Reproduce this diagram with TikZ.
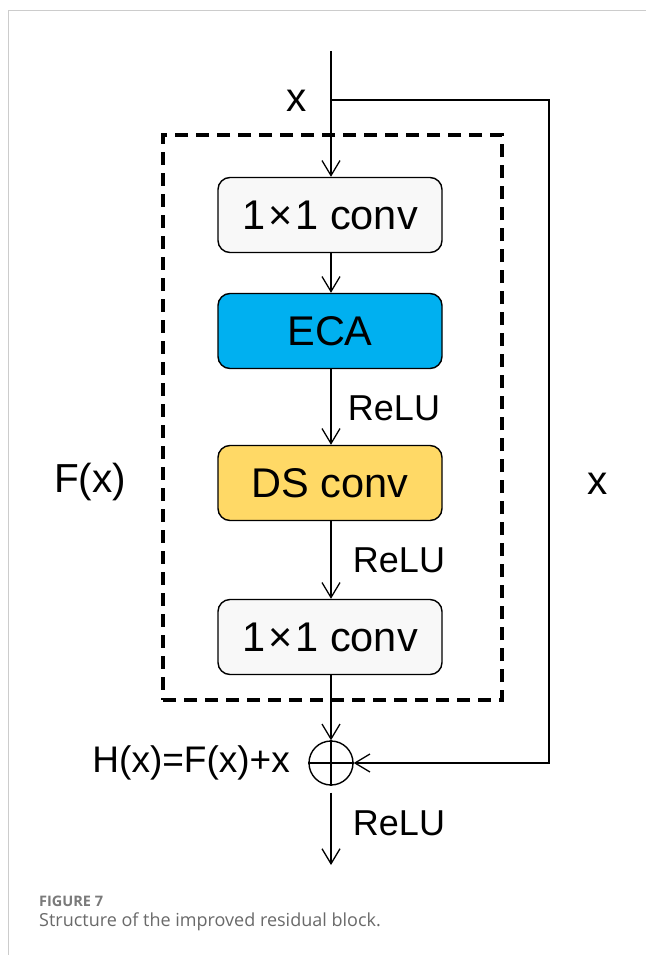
\documentclass[tikz,border=0pt]{standalone}
\usepackage{fontspec}
\setmainfont{Liberation Sans}
\newfontfamily\capfont{Open Sans}
\usetikzlibrary{arrows.meta}
\definecolor{ecablue}{HTML}{00B0F0}
\definecolor{dsyellow}{HTML}{FFD966}
\definecolor{boxgray}{HTML}{F8F8F8}
\definecolor{framegray}{HTML}{CCCCCC}
\definecolor{capgray}{HTML}{6A6A6A}
\definecolor{figgray}{HTML}{7A7A7A}
\newcommand{\bytimes}{\kern3pt×\kern3pt}

\begin{document}
\begin{tikzpicture}[x=1pt,y=-1pt,
  blockbox/.style={draw, line width=1.4pt, rounded corners=12pt,
    minimum width=224pt, minimum height=75pt, inner sep=0pt,
    font=\fontsize{41.5}{44}\selectfont},
  flow/.style={line width=1.3pt,
    -{Straight Barb[length=15pt,width=18pt,line width=1.3pt]}},
  lbl/.style={font=\fontsize{36}{40}\selectfont, inner sep=0pt},
  biglbl/.style={font=\fontsize{40.5}{44}\selectfont, inner sep=0pt},
  dashbox/.style={draw, line width=3.2pt, dash pattern=on 13pt off 8pt,
    minimum width=339pt, minimum height=565pt, inner sep=0pt},
]
\useasboundingbox (0,0) rectangle (646,955);
\fill[white] (0,0) rectangle (646,955);
% page frame
\draw[framegray, line width=1pt] (8,955) -- (8,11) -- (646,11);

% F(x) region
\node[dashbox] (fbox) at (332.5,417.5) {};

% blocks
\node[blockbox, fill=boxgray] (c1) at (330,215) {1\bytimes1 conv};
\node[blockbox, fill=ecablue] (eca) at (330,331) {ECA};
\node[blockbox, fill=dsyellow] (ds) at (330,483) {DS conv};
\node[blockbox, fill=boxgray] (c2) at (330,637) {1\bytimes1 conv};

% summation node
\node[circle, draw, line width=1.4pt, minimum size=44pt, inner sep=0pt] (sum) at (331,763) {};
\draw[line width=1.4pt] (sum.north) -- (sum.south);
\draw[line width=1.4pt] (sum.west) -- (sum.east);

% end points
\coordinate (in) at (331,51);
\coordinate (br) at (331,100);
\coordinate (out) at (331,865);

% main path
\draw[flow] (in) -- (c1.north -| in);
\draw[flow] (c1.south -| in) -- (eca.north -| in);
\draw[flow] (eca.south -| in) -- (ds.north -| in);
\draw[flow] (ds.south -| in) -- (c2.north -| in);
\draw[flow] (c2.south -| in) -- (sum.north);
\draw[flow, shorten <=7pt] (sum.south) -- (out);

% skip connection
\draw[flow] (br) -- (549,100) -- (549,763) -- (sum.east);

% labels
\node[biglbl] (xin) at (297,101) {x};
\node[lbl] (relu1) at (394,408) {ReLU};
\node[lbl] (relu2) at (399,560) {ReLU};
\node[lbl] (relu3) at (399,823) {ReLU};
\node[biglbl] (fx) at (90,482) {F(x)};
\node[biglbl] (xskip) at (598,484) {x};
\node[lbl, font=\fontsize{37}{40}\selectfont, anchor=east] (hx) at (290,763) {H(x)=F(x)+x};

% caption
\node[anchor=west, inner sep=0pt, text=figgray, font=\capfont\bfseries\fontsize{14.5}{16}\selectfont] (fig) at (39,901) {FIGURE 7};
\node[anchor=west, inner sep=0pt, text=capgray, font=\capfont\fontsize{18}{20}\selectfont] (cap) at (39,922) {Structure of the improved residual block.};
\end{tikzpicture}
\end{document}
